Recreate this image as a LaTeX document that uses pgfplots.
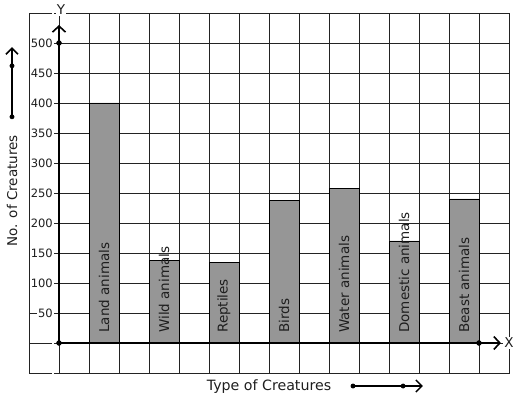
\documentclass[border=0pt]{standalone}
\usepackage{fontspec}
\setmainfont{DejaVu Sans}
\usepackage{pgfplots}
\pgfplotsset{compat=1.18}
\usetikzlibrary{arrows.meta}
\definecolor{barfill}{RGB}{150,150,150}
\definecolor{gridc}{RGB}{35,35,35}
\definecolor{labc}{RGB}{30,30,30}
\newcommand{\labfont}{\fontsize{13.5bp}{16bp}\selectfont}
\newcommand{\titfont}{\fontsize{14.2bp}{16bp}\selectfont}
\newcommand{\tickfont}{\fontsize{11.5bp}{13bp}\selectfont}
\begin{document}
\begin{tikzpicture}
\path[use as bounding box] (-29bp,-26bp) rectangle (488bp,373bp);
\begin{axis}[
  at={(0,0)}, anchor=south west,
  width=480bp, height=360bp, scale only axis,
  xmin=-1, xmax=15, ymin=-50, ymax=550,
  clip=false,
  axis line style={gridc, line width=0.8bp},
  xtick={-1,0,...,15}, xticklabels={},
  ytick={50,100,...,500},
  extra y ticks={-50,0,550}, extra y tick labels={},
  major tick length=0pt,
  grid=major,
  major grid style={gridc, line width=0.8bp},
  yticklabel style={anchor=east, fill=white, inner sep=1bp, xshift=25bp, font=\tickfont, text=labc},
  /pgf/number format/assume math mode=true,
]
\addplot[ybar, bar width=30bp, fill=barfill, draw=black, line width=0.8bp]
  coordinates {(1.5,400) (3.5,137) (5.5,134) (7.5,237) (9.5,257) (11.5,170) (13.5,240)};

% axes
\addplot[line width=2.5bp, -{Straight Barb[length=6bp, width=13bp, line width=1.6bp]}]
  coordinates {(0,0) (0,530)};
\addplot[line width=2.5bp, -{Straight Barb[length=6bp, width=13bp, line width=1.6bp]}]
  coordinates {(0,0) (14.73,0)};
\addplot[only marks, mark=*, mark size=2.5bp, black] coordinates {(0,0) (0,500) (14,0)};

% left arrow
\addplot[line width=2bp, -{Straight Barb[length=6bp, width=12bp, line width=1.5bp]}]
  coordinates {(-1.567,377) (-1.567,493)};
\addplot[only marks, mark=*, mark size=2.2bp, black] coordinates {(-1.567,377) (-1.567,462)};

% bottom arrow
\addplot[line width=1.8bp, -{Straight Barb[length=6bp, width=12bp, line width=1.5bp]}]
  coordinates {(9.8,-71.7) (12.13,-71.7)};
\addplot[only marks, mark=*, mark size=2.2bp, black] coordinates {(9.8,-71.7) (11.47,-71.7)};

% bar labels
\foreach \xx/\name in {1.5/Land animals, 3.5/Wild animals, 5.5/Reptiles, 7.5/Birds, 9.5/Water animals, 11.5/Domestic animals, 13.5/Beast animals}{
  \edef\tmp{\noexpand\node[rotate=90, anchor=west, inner sep=0pt, font=\noexpand\labfont, text=labc] at (axis cs:\xx,16.7) {\name};}
  \tmp
}

\node[rotate=90, font=\labfont, text=labc] at (axis cs:-1.567,254) {No. of Creatures};
\node[font=\titfont, text=labc] at (axis cs:7,-72) {Type of Creatures};
\node[fill=white, inner sep=1bp, font=\labfont, text=labc] at (axis cs:0.07,555) {Y};
\node[fill=white, inner sep=1bp, font=\labfont, text=labc] at (axis cs:15,0) {X};
\end{axis}
\end{tikzpicture}
\end{document}
